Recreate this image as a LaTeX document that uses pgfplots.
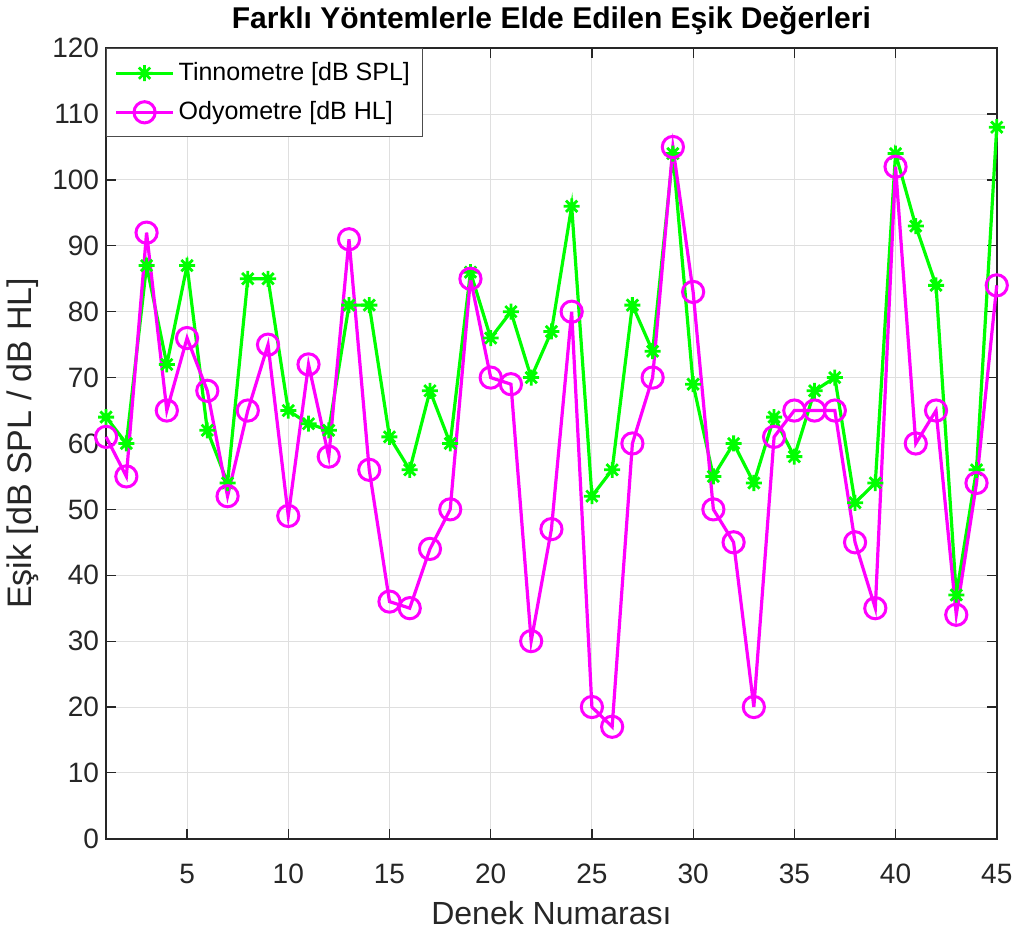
\documentclass[border=0pt]{standalone}
\usepackage{fontspec}
\setmainfont{Liberation Sans}
\usepackage{pgfplots}
\pgfplotsset{compat=1.18}
\definecolor{cgreen}{rgb}{0.0,1.0,0.0}
\definecolor{cmag}{rgb}{1.0,0.0,1.0}

% MATLAB-style asterisk: + and x together
\pgfdeclareplotmark{mstar}{%
  \pgfpathmoveto{\pgfqpoint{0pt}{\pgfplotmarksize}}%
  \pgfpathlineto{\pgfqpoint{0pt}{-\pgfplotmarksize}}%
  \pgfpathmoveto{\pgfqpoint{\pgfplotmarksize}{0pt}}%
  \pgfpathlineto{\pgfqpoint{-\pgfplotmarksize}{0pt}}%
  \pgfpathmoveto{\pgfqpoint{0.707\pgfplotmarksize}{0.707\pgfplotmarksize}}%
  \pgfpathlineto{\pgfqpoint{-0.707\pgfplotmarksize}{-0.707\pgfplotmarksize}}%
  \pgfpathmoveto{\pgfqpoint{0.707\pgfplotmarksize}{-0.707\pgfplotmarksize}}%
  \pgfpathlineto{\pgfqpoint{-0.707\pgfplotmarksize}{0.707\pgfplotmarksize}}%
  \pgfusepathqstroke}

\pgfplotstableread{
x tin ody
1 64 61
2 60 55
3 87 92
4 72 65
5 87 76
6 62 68
7 54 52
8 85 65
9 85 75
10 65 49
11 63 72
12 62 58
13 81 91
14 81 56
15 61 36
16 56 35
17 68 44
18 60 50
19 86 85
20 76 70
21 80 69
22 70 30
23 77 47
24 96 80
25 52 20
26 56 17
27 81 60
28 74 70
29 104 105
30 69 83
31 55 50
32 60 45
33 54 20
34 64 61
35 58 65
36 68 65
37 70 65
38 51 45
39 54 35
40 104 102
41 93 60
42 84 65
43 37 34
44 56 54
45 108 84
}\datatable

\begin{document}
\begin{tikzpicture}
\begin{axis}[
  scale only axis,
  width=445pt, height=395pt,
  xmin=1, xmax=45, ymin=0, ymax=120,
  xtick={5,10,...,45},
  ytick={0,10,...,120},
  grid=major,
  grid style={gray!25, line width=0.5pt},
  axis line style={black!85, line width=0.8pt},
  tick style={black!85, line width=0.6pt},
  tick align=inside,
  major tick length=5pt,
  tick label style={font=\fontsize{14}{16}\selectfont, text=black!85},
  xticklabel style={yshift=-9pt},
  /pgf/number format/assume math mode=true,
  xlabel={Denek Numarası},
  ylabel={Eşik [dB SPL / dB HL]},
  xlabel style={font=\fontsize{16}{18}\selectfont, text=black!85, yshift=-2pt},
  ylabel style={font=\fontsize{17}{19}\selectfont, text=black!85},
  title={Farklı Yöntemlerle Elde Edilen Eşik Değerleri},
  title style={font=\fontsize{15}{17}\selectfont\bfseries, yshift=-3pt},
  legend style={at={(0,1)}, anchor=north west, draw=black!70, line width=0.4pt,
    font=\fontsize{12.5}{14}\selectfont, row sep=5pt, inner xsep=4pt, inner ysep=5pt},
  legend image code/.code={
    \draw[mark repeat=2, mark phase=2] plot coordinates {(0cm,0cm) (0.5cm,0cm) (1cm,0cm)};},
  legend cell align=left,
  clip=false,
]
\addplot[cgreen, line width=1.6pt, mark=mstar, mark size=4pt, mark options={line width=1.4pt}]
  table[x=x, y=tin] {\datatable};
\addlegendentry{Tinnometre [dB SPL]}
\addplot[cmag, line width=1.6pt, mark=o, mark size=5.3pt, mark options={line width=1.5pt}]
  table[x=x, y=ody] {\datatable};
\addlegendentry{Odyometre [dB HL]}
\end{axis}
\end{tikzpicture}
\end{document}
